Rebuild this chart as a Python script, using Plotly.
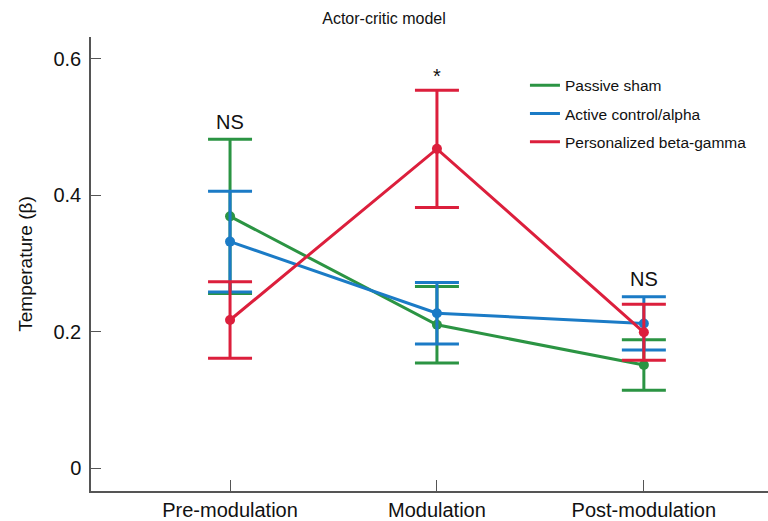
import plotly.graph_objects as go

categories = ["Pre-modulation", "Modulation", "Post-modulation"]
series_names = ["Passive sham", "Active control/alpha", "Personalized beta-gamma"]
passive_mean = [0.369, 0.210, 0.151]
passive_err = [0.113, 0.056, 0.037]
active_mean = [0.332, 0.227, 0.212]
active_err = [0.074, 0.045, 0.039]
personal_mean = [0.217, 0.468, 0.199]
personal_err = [0.056, 0.086, 0.041]
colors = ["#2b9443", "#1b7bc6", "#dc1f3c"]
sig_labels = ["NS", "*", "NS"]
sig_y = [0.508, 0.575, 0.277]

x_pos = [0, 1, 2]
means = [passive_mean, active_mean, personal_mean]
errs = [passive_err, active_err, personal_err]

fig = go.Figure()
for name, m, e, c in zip(series_names, means, errs, colors):
    fig.add_trace(go.Scatter(
        x=x_pos, y=m, mode="lines+markers",
        line=dict(color=c, width=3),
        marker=dict(color=c, size=10),
        error_y=dict(type="data", array=e, visible=True, color=c, thickness=3, width=22),
        showlegend=False,
    ))
for i, (name, c) in enumerate(zip(series_names, colors)):
    fig.add_trace(go.Scatter(
        x=[None], y=[None], mode="lines", name=name,
        line=dict(color=c, width=3), legendgroup=f"g{i}",
    ))

for xi, lab, yy in zip(x_pos, sig_labels, sig_y):
    fig.add_annotation(x=xi, y=yy, xref="x", yref="y", text=lab, showarrow=False,
                       font=dict(size=20, color="#111"), yanchor="middle")

axis_font = dict(family="Liberation Sans, Arial, sans-serif", size=20, color="#111")
fig.update_layout(
    width=768, height=521,
    margin=dict(l=91, r=0, t=37, b=30),
    paper_bgcolor="white", plot_bgcolor="white",
    font=dict(family="Liberation Sans, Arial, sans-serif", color="#111"),
    title=dict(text="Actor-critic model", x=0.5, xanchor="center", y=1 - 18 / 521, yanchor="middle",
               font=dict(size=16, color="#111")),
    legend=dict(x=0.641, y=0.93, xanchor="left", yanchor="top", bgcolor="rgba(0,0,0,0)",
                font=dict(size=15.5, color="#111"), tracegroupgap=5),
    xaxis=dict(range=[-0.672, 2.6], tickvals=x_pos, ticktext=categories, showgrid=False, zeroline=False,
               showline=True, linecolor="#555", linewidth=1.5, ticks="inside", ticklen=11,
               tickcolor="#555", tickwidth=1, tickfont=axis_font),
    yaxis=dict(range=[-0.0337, 0.632], tickvals=[0, 0.2, 0.4, 0.6], ticktext=["0", "0.2", "0.4", "0.6"],
               showgrid=False, zeroline=False, showline=True, linecolor="#555", linewidth=1.5,
               ticks="inside", ticklen=10, tickcolor="#555", tickwidth=1, tickfont=axis_font,
               ticklabelstandoff=4,
               title=dict(text="Temperature (β)", font=dict(size=19, color="#111"), standoff=16)),
)
fig.write_html("out.html")
